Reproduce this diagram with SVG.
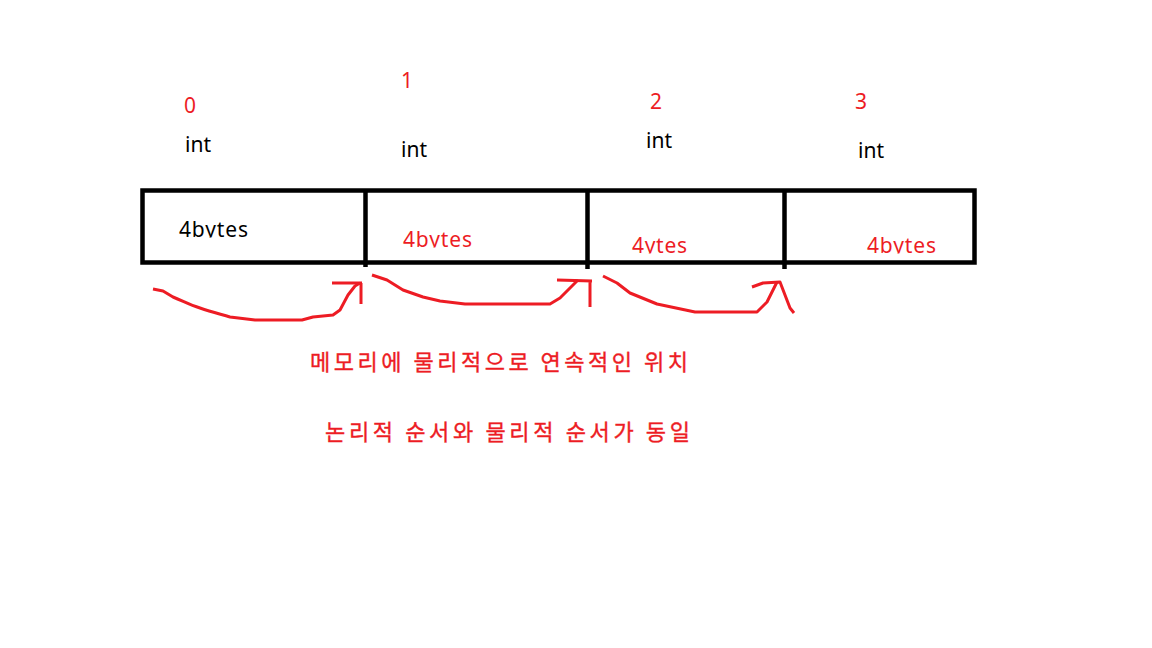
<svg xmlns="http://www.w3.org/2000/svg" width="1152" height="648" viewBox="0 0 1152 648">
<style>
.t{font-family:"Noto Sans","Liberation Sans","Noto Sans CJK KR",sans-serif;font-size:21px}
.k{font-family:"Noto Sans CJK KR",sans-serif;font-size:22px;fill:#ED1C24;stroke:#ED1C24;stroke-width:0.35}
.r{fill:#ED1C24}
.b{fill:#000}
.box{fill:none;stroke:#000;stroke-width:4.5}
.arr{fill:none;stroke:#ED1C24;stroke-width:3;stroke-linecap:butt;stroke-linejoin:round}
</style>
<defs>
<clipPath id="c0"><rect x="140" y="180" width="220" height="57.5"/></clipPath>
<clipPath id="c1"><rect x="370" y="180" width="210" height="67.5"/></clipPath>
<clipPath id="c2"><rect x="590" y="180" width="190" height="73.5"/></clipPath>
<clipPath id="c3"><rect x="790" y="180" width="180" height="73.5"/></clipPath>
</defs>
<rect width="1152" height="648" fill="#fff"/>
<g id="cell0">
<text class="t r" x="184" y="113">0</text>
<text class="t b" x="185" y="152">int</text>
<text class="t b" x="179" y="237" textLength="69" clip-path="url(#c0)">4bytes</text>
</g>
<g id="cell1">
<text class="t r" x="401" y="88">1</text>
<text class="t b" x="401" y="157">int</text>
<text class="t r" x="403" y="247" textLength="69" clip-path="url(#c1)">4bytes</text>
</g>
<g id="cell2">
<text class="t r" x="650" y="109">2</text>
<text class="t b" x="646" y="148">int</text>
<text class="t r" x="632" y="253" textLength="55" clip-path="url(#c2)">4ytes</text>
</g>
<g id="cell3">
<text class="t r" x="855" y="109">3</text>
<text class="t b" x="858" y="158">int</text>
<text class="t r" x="867" y="253" textLength="69" clip-path="url(#c3)">4bytes</text>
</g>
<g id="array">
<rect class="box" x="142.5" y="190.5" width="832" height="72"/>
<path d="M365.5 190.5V267M587.5 190.5V269M784.5 190.5V269" stroke="#000" stroke-width="4.5" fill="none"/>
</g>
<g id="connectors">
<path class="arr" d="M153 289 L163 291 L173 297 C185 302 190 305 200 308 C212 312 220 314 230 317 L255 320 L302 320 L313 317 L333 315 L340 310 L348 295 L355 286 L360 283"/>
<path class="arr" d="M332 283 H362 M361 283 V304"/>
<path class="arr" d="M372 275 L387 280 L403 290 L423 297 L440 301 L465 304 L550 304 L560 298 L570 288 L578 280"/>
<path class="arr" d="M557 280 L592 281 M590 281 V307"/>
<path class="arr" d="M603 276 L617 283 L630 293 L657 304 L695 312 L757 312 L767 302 L772 292 L777 282"/>
<path class="arr" d="M752 287 L763 283 L780 282 L785 295 L790 308 L794 313"/>
</g>
<g id="notes">
<text class="k" x="310" y="370" textLength="378" lengthAdjust="spacing">메모리에 물리적으로 연속적인 위치</text>
<text class="k" x="325" y="440" textLength="365" lengthAdjust="spacing">논리적 순서와 물리적 순서가 동일</text>
</g>
</svg>
